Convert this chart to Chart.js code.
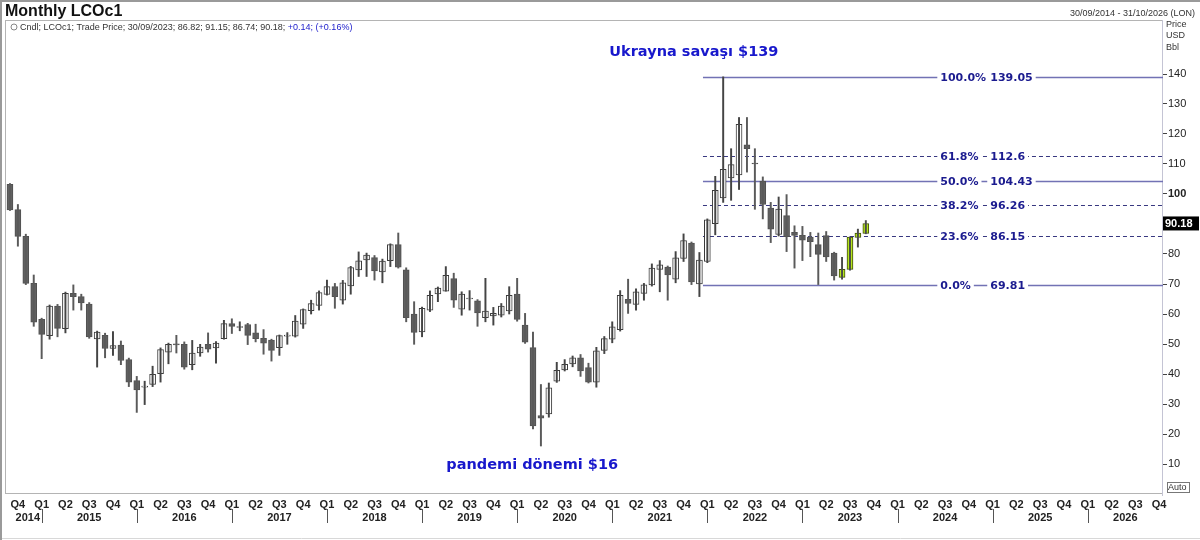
<!DOCTYPE html>
<html><head><meta charset="utf-8">
<script src="https://cdn.jsdelivr.net/npm/chart.js@4.4.0/dist/chart.umd.min.js"></script>
<style>html,body{margin:0;padding:0;background:#fff;}canvas{display:block}</style>
</head><body>
<div style="width:1200px;height:540px;position:relative"><canvas id="c" width="1200" height="540"></canvas></div>
<script>
// ---- categories (monthly, Sep 2014 .. Oct 2026) ----
const months = [
"2014-09","2014-10","2014-11","2014-12",
"2015-01","2015-02","2015-03","2015-04","2015-05","2015-06","2015-07","2015-08","2015-09","2015-10","2015-11","2015-12",
"2016-01","2016-02","2016-03","2016-04","2016-05","2016-06","2016-07","2016-08","2016-09","2016-10","2016-11","2016-12",
"2017-01","2017-02","2017-03","2017-04","2017-05","2017-06","2017-07","2017-08","2017-09","2017-10","2017-11","2017-12",
"2018-01","2018-02","2018-03","2018-04","2018-05","2018-06","2018-07","2018-08","2018-09","2018-10","2018-11","2018-12",
"2019-01","2019-02","2019-03","2019-04","2019-05","2019-06","2019-07","2019-08","2019-09","2019-10","2019-11","2019-12",
"2020-01","2020-02","2020-03","2020-04","2020-05","2020-06","2020-07","2020-08","2020-09","2020-10","2020-11","2020-12",
"2021-01","2021-02","2021-03","2021-04","2021-05","2021-06","2021-07","2021-08","2021-09","2021-10","2021-11","2021-12",
"2022-01","2022-02","2022-03","2022-04","2022-05","2022-06","2022-07","2022-08","2022-09","2022-10","2022-11","2022-12",
"2023-01","2023-02","2023-03","2023-04","2023-05","2023-06","2023-07","2023-08","2023-09","2023-10","2023-11","2023-12",
"2024-01","2024-02","2024-03","2024-04","2024-05","2024-06","2024-07","2024-08","2024-09","2024-10","2024-11","2024-12",
"2025-01","2025-02","2025-03","2025-04","2025-05","2025-06","2025-07","2025-08","2025-09","2025-10","2025-11","2025-12",
"2026-01","2026-02","2026-03","2026-04","2026-05","2026-06","2026-07","2026-08","2026-09","2026-10"];

// ---- OHLC series (LCOc1 monthly) ----
const open = [103.2,94.8,85.9,70.2,
58.2,52.8,62.6,55.1,66.9,65.8,63.3,51.7,52.9,48.5,49.6,44.8,
37.8,35.6,36.5,40.1,47.3,50.0,49.9,43.1,47.0,49.9,48.7,51.8,
56.8,55.5,56.5,53.7,51.9,51.3,48.8,52.6,52.6,56.6,61.1,62.9,
66.5,69.1,64.6,69.4,74.7,78.0,78.8,74.0,77.8,83.1,74.7,60.0,
54.0,61.3,66.7,67.6,71.8,61.6,65.0,64.4,58.8,59.4,59.6,61.0,
66.6,56.3,48.8,26.1,26.7,37.6,41.4,43.4,45.4,42.1,37.3,47.9,
51.6,54.8,64.9,63.2,66.9,69.7,74.9,75.6,71.6,78.5,83.6,70.0,
77.5,90.1,98.7,105.4,106.4,116.4,110.3,104.3,95.3,86.5,92.8,87.2,
86.2,85.6,83.1,86.1,80.3,72.2,74.9,85.5,86.82];
const high = [103.5,96.5,86.6,73.0,
58.6,63.0,63.2,67.3,69.7,66.6,63.8,54.3,53.6,54.1,51.0,45.3,
39.2,37.6,42.6,48.7,50.3,52.9,50.7,51.2,49.9,53.7,50.8,57.9,
58.4,57.4,56.9,56.6,54.8,51.6,53.0,53.8,59.5,61.7,64.6,67.7,
71.3,70.2,71.2,75.9,80.7,80.3,79.5,78.3,83.4,87.0,75.4,64.1,
62.3,67.7,69.0,75.8,73.6,67.4,67.8,64.8,71.9,62.2,63.5,69.1,
71.9,60.2,54.0,36.5,37.0,43.9,44.8,46.0,46.5,43.6,48.9,52.5,
57.4,67.8,71.6,68.4,70.2,76.7,77.8,76.0,80.8,86.7,84.0,80.5,
91.7,105.9,139.05,115.1,125.5,125.5,115.1,105.7,97.2,99.0,99.8,89.4,
89.2,87.2,87.0,87.5,80.6,78.9,85.7,88.3,91.15];
const low = [94.5,82.6,69.8,55.9,
45.1,51.6,52.4,53.7,61.3,61.3,51.9,42.3,45.4,46.2,43.1,35.8,
27.2,29.8,35.8,37.3,43.4,47.0,41.6,41.4,45.9,47.3,43.6,51.6,
53.5,54.4,49.8,50.7,46.6,44.3,46.2,49.9,52.3,55.2,60.0,61.3,
66.3,61.9,63.3,66.6,72.5,72.5,71.3,70.4,75.8,75.3,57.4,49.9,
52.4,60.8,64.1,67.6,62.2,59.6,61.3,55.9,57.4,56.3,59.0,60.0,
57.6,50.2,21.7,16.0,25.6,37.2,41.0,42.4,39.2,37.0,35.6,46.8,
50.4,54.3,60.2,61.3,64.6,69.3,67.4,64.6,70.4,77.5,69.8,65.8,
77.1,86.4,97.2,97.9,101.5,107.3,94.9,91.7,83.8,86.0,80.8,75.3,
77.8,79.1,69.81,77.5,71.3,71.6,74.6,82.3,86.74];
const close = [94.7,85.9,70.2,57.3,
53.2,62.6,55.2,66.9,65.8,63.7,52.4,54.0,48.5,49.5,44.5,37.3,
34.7,36.0,39.9,48.1,49.9,49.7,42.3,47.0,49.0,48.3,50.3,56.8,
55.9,55.8,52.9,51.8,50.3,47.9,52.8,52.8,57.6,61.5,63.5,67.1,
69.1,65.8,70.4,75.5,77.7,79.6,74.4,77.6,83.1,75.6,58.8,53.9,
61.9,66.2,68.6,72.9,64.6,66.6,65.3,60.4,61.0,60.2,62.6,66.2,
58.2,50.6,22.7,25.3,35.4,41.2,43.2,45.4,41.0,37.3,47.7,51.8,
55.7,66.2,63.5,67.4,69.7,75.3,76.4,73.0,78.7,84.5,70.7,78.0,
91.4,101.2,108.2,109.8,123.2,115.1,110.0,96.5,88.3,95.0,85.8,86.2,
84.6,84.1,79.9,79.0,72.7,74.9,85.6,87.0,90.18];
const highlightFrom = 105; // last candles drawn in green

// ---- Fibonacci retracement ----
const fibPct = ["100.0%","61.8%","50.0%","38.2%","23.6%","0.0%"];
const fibVal = [139.05,112.6,104.43,96.26,86.15,69.81];
const fibDashed = [false,true,false,true,true,false];
const fibStartIndex = 87.45, fibPctIndex = 117.4, fibValIndex = 123.7;

// ---- annotations / axis texts ----
const notes = [
  {text:"Ukrayna savaşı $139", idx:86.3, val:147.4},
  {text:"pandemi dönemi $16", idx:65.9, val:9.6}
];
const yTicks = [10,20,30,40,50,60,70,80,90,100,110,120,130,140];
const lastPrice = 90.18;
const SANS = "'Liberation Sans', Arial, sans-serif";
const DJ = "'DejaVu Sans', Verdana, sans-serif";

// ---- build datasets ----
const wickData = [], bodyData = [], bodyBg = [], bodyBorder = [], wickColor = [];
for (let i = 0; i < open.length; i++) {
  wickData.push([low[i], high[i]]);
  bodyData.push([open[i], close[i]]);
  const up = close[i] >= open[i];
  if (i >= highlightFrom) { bodyBg.push('#b6e51e'); bodyBorder.push('#3f4f08'); wickColor.push('#4a4a4a'); }
  else if (up) { bodyBg.push('#ffffff'); bodyBorder.push('#3a3a3a'); wickColor.push('#444'); }
  else { bodyBg.push('#616161'); bodyBorder.push('#505050'); wickColor.push('#5a5a5a'); }
}

const framePlugin = {
  id: 'frame',
  beforeDraw(chart) {
    const {ctx, chartArea: a, width, height} = chart;
    ctx.save();
    ctx.fillStyle = '#fff'; ctx.fillRect(0, 0, width, height);
    ctx.strokeStyle = '#9a9a9a'; ctx.lineWidth = 2;
    ctx.beginPath(); ctx.moveTo(1, height); ctx.lineTo(1, 1); ctx.lineTo(width, 1); ctx.stroke();
    ctx.strokeStyle = '#d8d8d8'; ctx.lineWidth = 1;
    ctx.beginPath(); ctx.moveTo(2, height - 1.5); ctx.lineTo(width, height - 1.5); ctx.stroke();
    ctx.strokeStyle = '#b4b4b4'; ctx.lineWidth = 1;
    ctx.strokeRect(Math.round(a.left) - 0.5, Math.round(a.top) + 0.5, Math.round(a.right - a.left), Math.round(a.bottom - a.top) - 1);
    ctx.strokeStyle = '#c4c4d4';
    ctx.beginPath(); ctx.moveTo(Math.round(a.right) - 0.5, a.top); ctx.lineTo(Math.round(a.right) - 0.5, a.bottom + 2); ctx.stroke();
    ctx.fillStyle = '#111'; ctx.font = 'bold 16px ' + SANS; ctx.textBaseline = 'alphabetic';
    ctx.fillText('Monthly LCOc1', 5, 16);
    ctx.font = '9px ' + SANS;
    const t1 = 'Cndl; LCOc1; Trade Price; 30/09/2023; 86.82; 91.15; 86.74; 90.18; ';
    ctx.fillStyle = '#333'; ctx.fillText(t1, 20, 30);
    const w1 = ctx.measureText(t1).width;
    ctx.fillStyle = '#2222cc'; ctx.fillText('+0.14; (+0.16%)', 20 + w1, 30);
    ctx.strokeStyle = '#888'; ctx.beginPath(); ctx.arc(14, 27, 3, 0, Math.PI * 2); ctx.stroke();
    ctx.textAlign = 'right'; ctx.fillStyle = '#333';
    ctx.fillText('30/09/2014 - 31/10/2026 (LON)', 1195, 16);
    ctx.textAlign = 'left';
    ctx.fillText('Price', 1166, 27); ctx.fillText('USD', 1166, 38); ctx.fillText('Bbl', 1166, 50);
    ctx.restore();
  },
  beforeDatasetsDraw(chart) {
    const {ctx, chartArea: a, scales: {x, y}} = chart;
    const x0 = x.getPixelForValue(fibStartIndex);
    ctx.save();
    fibVal.forEach((v, k) => {
      const py = Math.round(y.getPixelForValue(v)) + 0.5;
      ctx.beginPath();
      ctx.strokeStyle = fibDashed[k] ? '#383880' : '#7272b4';
      ctx.lineWidth = fibDashed[k] ? 1 : 1.4;
      ctx.setLineDash(fibDashed[k] ? [4, 3] : []);
      ctx.moveTo(x0, py); ctx.lineTo(a.right, py); ctx.stroke();
    });
    ctx.restore();
  },
  afterDraw(chart) {
    const {ctx, chartArea: a, scales: {x, y}} = chart;
    ctx.save();
    ctx.font = 'bold 11px ' + DJ; ctx.textBaseline = 'middle'; ctx.textAlign = 'left';
    fibVal.forEach((v, k) => {
      const py = Math.round(y.getPixelForValue(v)) + 0.5;
      const items = [[fibPct[k], x.getPixelForValue(fibPctIndex)], [String(v), x.getPixelForValue(fibValIndex)]];
      items.forEach(([t, px]) => {
        const w = ctx.measureText(t).width;
        ctx.fillStyle = '#fff'; ctx.fillRect(px - 3, py - 6, w + 6, 12);
        ctx.fillStyle = '#1b1b8f'; ctx.fillText(t, px, py + 0.5);
      });
    });
    ctx.font = 'bold 14.5px ' + DJ; ctx.textAlign = 'center'; ctx.fillStyle = '#1818cc';
    notes.forEach(n => ctx.fillText(n.text, x.getPixelForValue(n.idx), y.getPixelForValue(n.val)));
    ctx.font = 'bold 11px ' + SANS; ctx.fillStyle = '#222'; ctx.textBaseline = 'alphabetic';
    const lastIdx = months.length - 1;
    const yearStarts = [];
    months.forEach((m, i) => { if (m.endsWith('-01')) yearStarts.push(i); });
    const spans = [[0.5, yearStarts[0]]];
    yearStarts.forEach((s, k) => spans.push([s, k + 1 < yearStarts.length ? yearStarts[k + 1] : lastIdx + 0.5]));
    spans.forEach(([s, e], k) => {
      const yr = k === 0 ? months[0].slice(0, 4) : months[yearStarts[k - 1]].slice(0, 4);
      ctx.fillText(yr, (x.getPixelForValue(s) + x.getPixelForValue(e)) / 2, 521);
    });
    ctx.strokeStyle = '#555'; ctx.lineWidth = 1;
    yearStarts.forEach(s => {
      const px = Math.round(x.getPixelForValue(s)) + 0.5;
      ctx.beginPath(); ctx.moveTo(px, 509); ctx.lineTo(px, 523); ctx.stroke();
    });
    const py = y.getPixelForValue(lastPrice);
    ctx.fillStyle = '#000'; ctx.fillRect(a.right, py - 7, 36, 14);
    ctx.fillStyle = '#fff'; ctx.font = 'bold 11px ' + SANS; ctx.textAlign = 'left'; ctx.textBaseline = 'middle';
    ctx.fillText(lastPrice.toFixed(2), a.right + 2, py + 0.5);
    ctx.strokeStyle = '#777'; ctx.strokeRect(1167.5, 482.5, 22, 10);
    ctx.fillStyle = '#333'; ctx.font = '9px ' + SANS; ctx.fillText('Auto', 1168, 488);
    ctx.restore();
  }
};

new Chart(document.getElementById('c'), {
  type: 'bar',
  data: {
    labels: months,
    datasets: [
      {label: 'wick', data: wickData, backgroundColor: wickColor, borderWidth: 0, barThickness: 1.3, grouped: false, borderSkipped: false},
      {label: 'body', data: bodyData, backgroundColor: bodyBg, borderColor: bodyBorder, borderWidth: 1, barThickness: 6, grouped: false, borderSkipped: false, minBarLength: 1}
    ]
  },
  options: {
    responsive: false, animation: false, devicePixelRatio: 1,
    layout: {padding: {top: 20, left: 6, right: 0, bottom: 0}},
    plugins: {legend: {display: false}, tooltip: {enabled: false}},
    scales: {
      x: {
        offset: true,
        grid: {display: false, drawTicks: false},
        border: {display: false},
        ticks: {
          autoSkip: false, maxRotation: 0, minRotation: 0, padding: 4,
          color: '#222', font: {family: SANS, size: 11, weight: 'bold'},
          callback: (v, i) => { const m = +months[i].slice(5, 7); return (m - 1) % 3 === 0 ? 'Q' + ((m - 1) / 3 + 1) : ''; }
        },
        afterFit: s => { s.height = 46; }
      },
      y: {
        position: 'right', min: 0, max: 158,
        grid: {drawOnChartArea: false, drawTicks: true, tickLength: 4, color: 'rgba(0,0,0,0)',
               tickColor: c => (c.tick && yTicks.includes(c.tick.value)) ? '#444' : 'rgba(0,0,0,0)'},
        border: {display: false},
        ticks: {
          stepSize: 10, autoSkip: false, padding: 1, color: '#222',
          font: c => ({family: SANS, size: 11, weight: (c.tick && c.tick.value === 100) ? 'bold' : 'normal'}),
          callback: v => yTicks.includes(v) ? String(v) : ''
        },
        afterFit: s => { s.width = 37; }
      }
    }
  },
  plugins: [framePlugin]
});
</script>
</body></html>
